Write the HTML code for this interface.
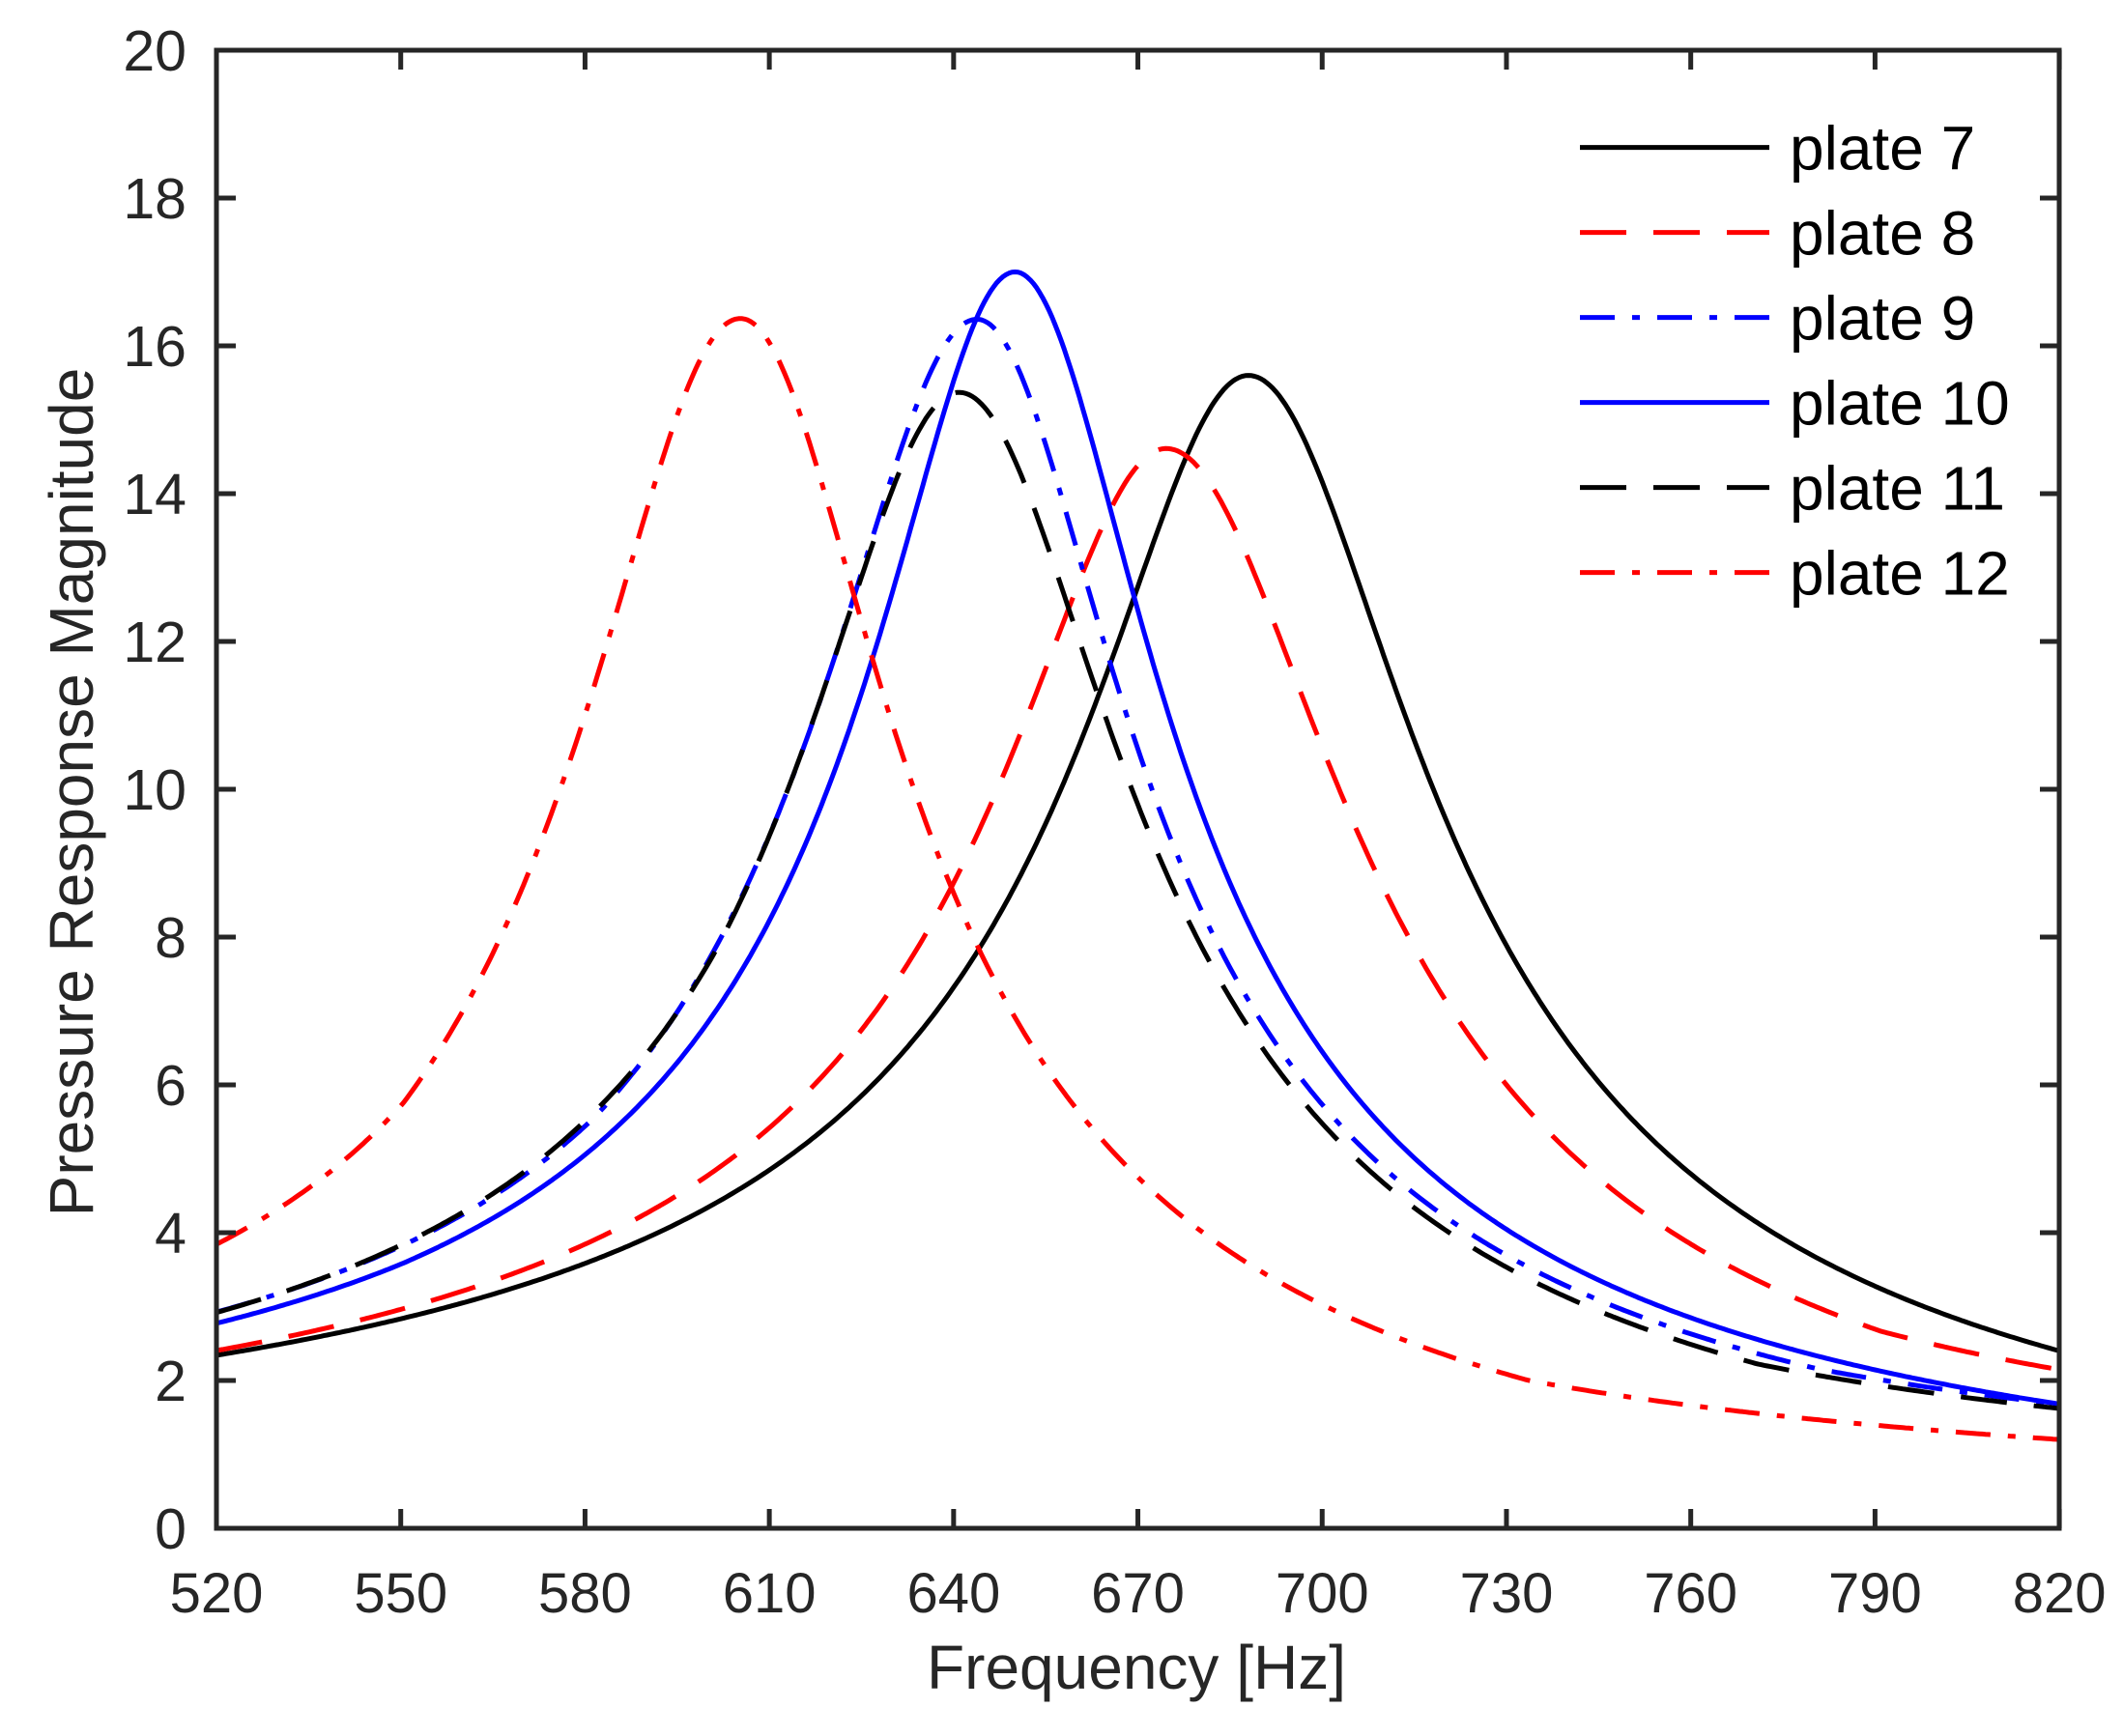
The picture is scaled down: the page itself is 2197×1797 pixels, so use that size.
<!DOCTYPE html>
<html><head><meta charset="utf-8"><style>
html,body{margin:0;padding:0;background:#fff;}
svg{display:block;}
text{font-family:"Liberation Sans",sans-serif;fill:#262626;}
</style></head><body>
<svg id="s" width="2197" height="1797" viewBox="0 0 2197 1797" xmlns="http://www.w3.org/2000/svg">
<defs><clipPath id="c"><rect x="224" y="52" width="1907" height="1530"/></clipPath></defs>
<g id="curves" clip-path="url(#c)" fill="none" stroke-width="5" stroke-linejoin="round"></g>
<g id="axes"></g>
</svg>
<script>
var X=function(f){return 224+(f-520)*6.357;}, Y=function(v){return 1582-v*76.5;};
var model={
p7:[15.6,688,[25.5,0,25.5],[26.5,-0.045,20.5]],
p8:[14.61,674.6,[25.8,0,25.8],[28,-0.055,21.6]],
p9:[16.36,643.8,[25,-0.04,22.5],[23,-0.035,18.2]],
p10:[17.0,650,[22.5,-0.01,21.5],[22,-0.03,16.9]],
p11:[15.37,640.9,[25,-0.04,23.4],[25.5,-0.05,19]],
p12:[16.37,605.3,[25,-0.08,20.6],[23.5,-0.06,15.8]]
};
var style={
p7:["#000",""],p8:["#ff0000","48 28"],p9:["#0000ff","36 18 8 18"],
p10:["#0000ff",""],p11:["#000","48 28"],p12:["#ff0000","36 18 8 18"]};
function val(m,f){
 var d=f-m[1],s=d<0?m[2]:m[3],a=Math.abs(d);
 var g=Math.max(s[2],s[0]+s[1]*a);
 var u=d/g;return m[0]/Math.sqrt(1+u*u);
}
function path(m){
 var d="";
 for(var f=520;f<=820.001;f+=0.5){
  d+=(f===520?"M":"L")+X(f).toFixed(1)+","+Y(val(m,f)).toFixed(1);
 }
 return d;
}
var NS="http://www.w3.org/2000/svg";
var g=document.getElementById("curves");
["p7","p8","p9","p10","p11","p12"].forEach(function(k){
 var e=document.createElementNS(NS,"path");
 e.setAttribute("d",path(model[k]));e.setAttribute("stroke",style[k][0]);
 if(style[k][1])e.setAttribute("stroke-dasharray",style[k][1]);
 g.appendChild(e);
});
var a="";
a+='<rect x="224" y="52" width="1907" height="1530" fill="none" stroke="#262626" stroke-width="5"/>';
for(var v=0;v<=20;v+=2){var y=Y(v);
 a+='<line x1="224" y1="'+y+'" x2="244" y2="'+y+'" stroke="#262626" stroke-width="5"/>';
 a+='<line x1="2111" y1="'+y+'" x2="2131" y2="'+y+'" stroke="#262626" stroke-width="5"/>';
 a+='<text x="193" y="'+(y+21)+'" font-size="59" text-anchor="end">'+v+'</text>';}
for(var f=520;f<=820;f+=30){var x=X(f);
 a+='<line x1="'+x+'" y1="1582" x2="'+x+'" y2="1562" stroke="#262626" stroke-width="5"/>';
 a+='<line x1="'+x+'" y1="52" x2="'+x+'" y2="72" stroke="#262626" stroke-width="5"/>';
 a+='<text x="'+x+'" y="1669" font-size="58" text-anchor="middle">'+f+'</text>';}
a+='<text x="1176" y="1748" font-size="64" text-anchor="middle">Frequency [Hz]</text>';
a+='<text transform="translate(96,820) rotate(-90)" font-size="64" text-anchor="middle">Pressure Response Magnitude</text>';
var names=["plate 7","plate 8","plate 9","plate 10","plate 11","plate 12"],keys=["p7","p8","p9","p10","p11","p12"];
for(var i=0;i<6;i++){var y=152.6+88*i;
 a+='<line x1="1635" y1="'+y+'" x2="1831" y2="'+y+'" stroke="'+style[keys[i]][0]+'" stroke-width="5"'+(style[keys[i]][1]?' stroke-dasharray="'+style[keys[i]][1]+'"':'')+'/>';
 a+='<text x="1852" y="'+(y+23)+'" font-size="64" style="fill:#000">'+names[i]+'</text>';}
document.getElementById("axes").innerHTML=a;
</script>
</body></html>
